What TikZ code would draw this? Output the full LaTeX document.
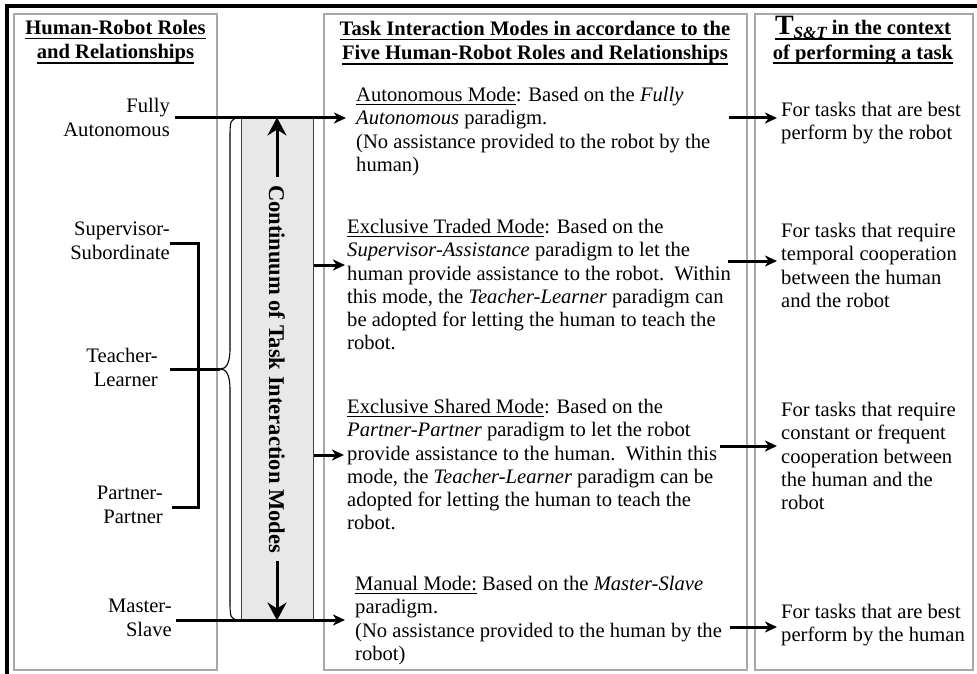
\documentclass[tikz,border=0pt]{standalone}
\usepackage{fontspec}
\setmainfont{Liberation Serif}
\usetikzlibrary{arrows.meta}
\newsavebox\myulbox
\newcommand\hul[1]{\sbox\myulbox{#1}\leavevmode\rlap{\rule[-5pt]{\wd\myulbox}{1.8pt}}\usebox\myulbox}
\newcommand\lul[1]{\sbox\myulbox{#1}\leavevmode\rlap{\rule[-3.2pt]{\wd\myulbox}{0.9pt}}\usebox\myulbox}
\definecolor{boxgray}{HTML}{A8A8A8}
\definecolor{contfill}{HTML}{E8E8E8}
\tikzset{
  colbox/.style={draw=boxgray, line width=1.2pt},
  txt/.style={inner sep=0pt, align=left, font=\fontsize{20.6}{23.3}\selectfont},
  lbl/.style={inner sep=0pt, align=right, anchor=north east, font=\fontsize{20.6}{24}\selectfont},
  head/.style={inner sep=0pt, align=center, anchor=north, font=\fontsize{20.6}{24.5}\selectfont\bfseries},
  conn/.style={line width=3pt},
  arr/.style={line width=3pt, -{Stealth[length=12pt,width=11pt,inset=3.5pt]}},
  bigarr/.style={line width=3pt, -{Stealth[length=18pt,width=19pt,inset=6pt]}},
}
\begin{document}
\begin{tikzpicture}[x=1pt,y=-1pt]
\useasboundingbox (0,0) rectangle (977,674);
% outer frame (top and left only visible)
\draw[line width=3.2pt] (7,674) -- (7,6) -- (977,6);
% column boxes
\draw[colbox] (14,14) rectangle (217,670);
\draw[colbox] (324,14) rectangle (747,670);
\draw[colbox] (755,14) rectangle (973,670);
% headings
\node[head] (h1) at (115.5,20) {\hul{Human-Robot Roles}\\\hul{and Relationships}};
\node[head] (h2) at (535,21) {\hul{Task Interaction Modes in accordance to the}\\\hul{Five Human-Robot Roles and Relationships}};
\node[head] (h3) at (863,16) {\hul{{\fontsize{28}{28}\selectfont T}\raisebox{-4pt}{\fontsize{17}{17}\selectfont\itshape S\&T}\ in the context}\\\hul{of performing a task}};
% continuum box
\node[draw=black!75, fill=contfill, line width=1pt, minimum width=72pt, minimum height=502pt, inner sep=0pt] (cont) at (277,369) {};
\node[rotate=-90, inner sep=0pt, font=\fontsize{22.5}{24}\selectfont\bfseries] (ctext) at (277,369) {Continuum of Task Interaction Modes};
\draw[bigarr, shorten <=8pt] (ctext.west) -- (cont.north);
\draw[bigarr, shorten <=8pt] (ctext.east) -- (cont.south);
% brace
\coordinate (btip) at (220,369);
\draw[line width=1.1pt] (cont.north west) .. controls (230,119) .. (230,140) -- (230,348)
  .. controls (230,364) and (226,369) .. (btip)
  .. controls (226,369) and (230,374) .. (230,390) -- (230,598)
  .. controls (230,619) .. (cont.south west);
% left labels
\node[lbl] (fa) at (170,98) {Fully\\Autonomous};
\node[lbl] (ss) at (170,222) {Supervisor-\\Subordinate};
\node[lbl] (tl) at (158,348) {Teacher-\\Learner};
\node[lbl] (pp) at (163,486) {Partner-\\Partner};
\node[lbl] (ms) at (172,599) {Master-\\Slave};
% middle texts
\node[txt, anchor=north west] (am) at (356,87) {\lul{Autonomous Mode}: Based on the \textit{Fully}\\\textit{Autonomous} paradigm.\\(No assistance provided to the robot by the\\human)};
\node[txt, anchor=north west] (etm) at (347,219) {\lul{Exclusive Traded Mode}: Based on the\\\textit{Supervisor-Assistance} paradigm to let the\\human provide assistance to the robot.\ \ Within\\this mode, the \textit{Teacher-Learner} paradigm can\\be adopted for letting the human to teach the\\robot.};
\node[txt, anchor=north west] (esm) at (347,399) {\lul{Exclusive Shared Mode}: Based on the\\\textit{Partner-Partner} paradigm to let the robot\\provide assistance to the human.\ \ Within this\\mode, the \textit{Teacher-Learner} paradigm can be\\adopted for letting the human to teach the\\robot.};
\node[txt, anchor=north west] (mm) at (355,576) {\lul{Manual Mode:} Based on the \textit{Master-Slave}\\paradigm.\\(No assistance provided to the human by the\\robot)};
% right texts
\node[txt, anchor=north west] (r1) at (781,102) {For tasks that are best\\perform by the robot};
\node[txt, anchor=north west] (r2) at (781,223) {For tasks that require\\temporal cooperation\\between the human\\and the robot};
\node[txt, anchor=north west] (r3) at (781,402) {For tasks that require\\constant or frequent\\cooperation between\\the human and the\\robot};
\node[txt, anchor=north west] (r4) at (781,604) {For tasks that are best\\perform by the human};
% connector coordinates
\coordinate (faR) at (175,118);
\coordinate (ssR) at (170,243);
\coordinate (tlR) at (170,369);
\coordinate (ppR) at (172,507);
\coordinate (msR) at (176,620);
\coordinate (bar1) at (198,243);
\coordinate (bar2) at (198,507);
% left connectors
\draw[arr, shorten >=10pt] (faR) -- (am.west |- faR);
\draw[conn] (ssR) -- (bar1) -- (bar2) -- (ppR);
\draw[conn] (tlR) -- (btip);
\draw[arr, shorten >=10pt] (msR) -- (mm.west |- msR);
% continuum to modes
\draw[arr, shorten >=2pt] (cont.east |- 0,265) -- (etm.west |- 0,265);
\draw[arr, shorten >=3pt] (cont.east |- 0,455) -- (esm.west |- 0,455);
% modes to T
\coordinate (o1) at (729,118);
\coordinate (o2) at (728,261);
\coordinate (o3) at (720,446);
\coordinate (o4) at (730,627);
\draw[arr, shorten >=4pt] (o1) -- (r1.west |- o1);
\draw[arr, shorten >=4pt] (o2) -- (r2.west |- o2);
\draw[arr, shorten >=4pt] (o3) -- (r3.west |- o3);
\draw[arr, shorten >=4pt] (o4) -- (r4.west |- o4);
\end{tikzpicture}
\end{document}
